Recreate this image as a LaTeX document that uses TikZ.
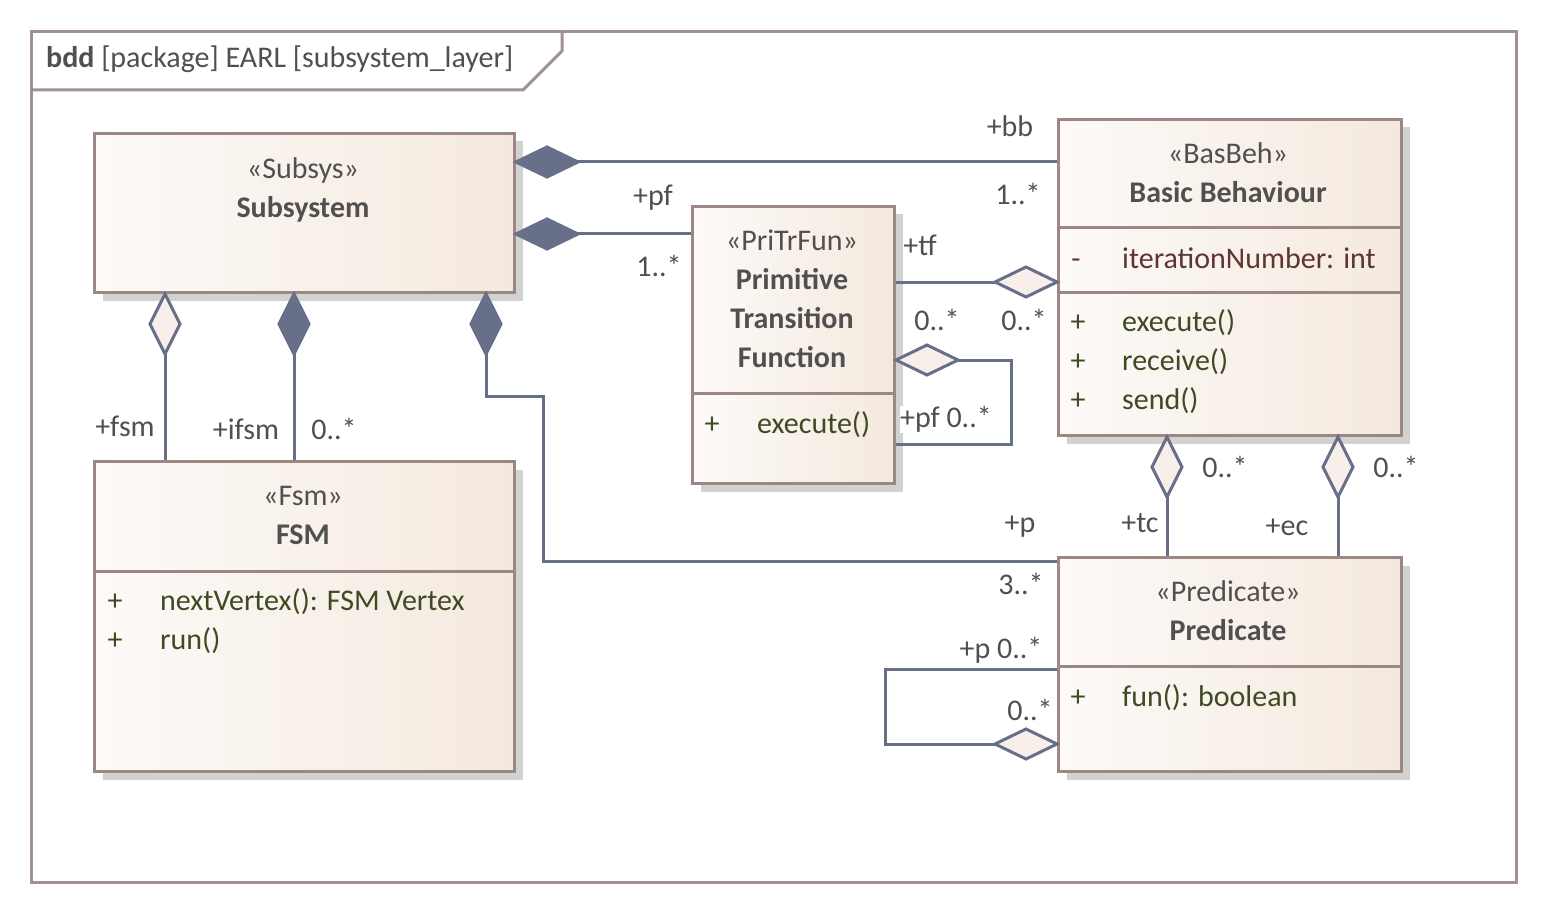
\documentclass[tikz,border=0pt]{standalone}
\usepackage{fontspec}
\setmainfont{Carlito}
\usetikzlibrary{shadows}
\definecolor{connc}{HTML}{687089}
\definecolor{boxline}{HTML}{9C8784}
\definecolor{frameline}{HTML}{A09291}
\definecolor{fillL}{HTML}{FDFAF8}
\definecolor{fillR}{HTML}{F4E9DE}
\definecolor{txtc}{HTML}{505050}
\definecolor{optxt}{HTML}{3E4A22}
\definecolor{attxt}{HTML}{5E3530}
\definecolor{shadowc}{HTML}{D2D2D2}
\definecolor{aggfill}{HTML}{F8EFEA}
\begin{document}
\begin{tikzpicture}[x=1pt,y=-1pt,
  txt/.style={font=\fontsize{30}{36}\selectfont, inner sep=0pt, text height=22pt, text depth=5pt, text=txtc},
  bold/.style={txt, font=\fontsize{30}{36}\selectfont\bfseries},
  op/.style={txt, text=optxt, anchor=west},
  vis/.style={txt, text=optxt},
  att/.style={txt, text=attxt, anchor=west},
  umlbox/.style={draw=boxline, line width=3pt, left color=fillL, right color=fillR, anchor=north west, inner sep=0pt,
    drop shadow={shadow xshift=8pt, shadow yshift=-8pt, fill=shadowc, opacity=1}},
  divider/.style={draw=boxline, line width=3pt},
  conn/.style={draw=connc, line width=3pt},
  comp/.style={draw=connc, fill=connc, line width=3pt, line join=miter},
  agg/.style={draw=connc, fill=aggfill, line width=3pt, line join=miter},
  lbl/.style={txt, fill=white}
]
\useasboundingbox (0,0) rectangle (1545,912);
\fill[white] (0,0) rectangle (1545,912);
% frame
\node[draw=frameline, line width=3pt, minimum width=1485pt, minimum height=851pt, anchor=north west, inner sep=0pt] (frame) at (30,30) {};
\draw[frameline, line width=3pt] (frame.west |- 0,90) -- (523,90) -- (562,51) -- (562,30);
\node[txt, anchor=west] (title) at (46,59) {\textbf{bdd} [package] EARL [subsystem\_layer]};

% boxes
\node[umlbox, minimum width=420pt, minimum height=159pt] (sub) at (93,132) {};
\node[umlbox, minimum width=420pt, minimum height=310pt] (fsm) at (93,460) {};
\node[umlbox, minimum width=202pt, minimum height=277pt] (ptf) at (691,205) {};
\node[umlbox, minimum width=343pt, minimum height=316pt] (bb) at (1057,118) {};
\node[umlbox, minimum width=343pt, minimum height=214pt] (pred) at (1057,556) {};

% dividers
\draw[divider] (fsm.west |- 0,571) -- (fsm.east |- 0,571);
\draw[divider] (ptf.west |- 0,393) -- (ptf.east |- 0,393);
\draw[divider] (bb.west |- 0,228) -- (bb.east |- 0,228);
\draw[divider] (bb.west |- 0,292) -- (bb.east |- 0,292);
\draw[divider] (pred.west |- 0,666) -- (pred.east |- 0,666);

% Subsystem
\node[txt] (subst) at (303,170) {«Subsys»};
\node[bold] (subnm) at (303,209) {Subsystem};
% FSM
\node[txt] (fsmst) at (303,497) {«Fsm»};
\node[bold] (fsmnm) at (303,536) {FSM};
\node[vis] (fsmv1) at (115,602) {+};
\node[op] (fsmo1) at (160,602) {nextVertex(): FSM Vertex};
\node[vis] (fsmv2) at (115,641) {+};
\node[op] (fsmo2) at (160,641) {run()};
% PriTrFun
\node[txt] (ptfst) at (792,242) {«PriTrFun»};
\node[bold] (ptfn1) at (792,281) {Primitive};
\node[bold] (ptfn2) at (792,320) {Transition};
\node[bold] (ptfn3) at (792,359) {Function};
\node[vis] (ptfv1) at (712,425) {+};
\node[op] (ptfo1) at (757,425) {execute()};
% Basic Behaviour
\node[txt] (bbst) at (1228,155) {«BasBeh»};
\node[bold] (bbnm) at (1228,194) {Basic Behaviour};
\node[txt, text=attxt] (bbv0) at (1076,260) {-};
\node[att] (bba1) at (1122,260) {iterationNumber: int};
\node[vis] (bbv1) at (1078,323) {+};
\node[op] (bbo1) at (1122,323) {execute()};
\node[vis] (bbv2) at (1078,362) {+};
\node[op] (bbo2) at (1122,362) {receive()};
\node[vis] (bbv3) at (1078,401) {+};
\node[op] (bbo3) at (1122,401) {send()};
% Predicate
\node[txt] (predst) at (1228,593) {«Predicate»};
\node[bold] (prednm) at (1228,632) {Predicate};
\node[vis] (predv1) at (1078,698) {+};
\node[op] (predo1) at (1122,698) {fun(): boolean};

% connectors
% 1 Subsystem -- Basic Behaviour
\coordinate (d1) at (sub.east |- 0,162);
\draw[conn] ([xshift=62pt]d1) -- (bb.west |- d1);
\draw[comp] (d1) -- ++(31,-15) -- ++(31,15) -- ++(-31,15) -- cycle;
% 2 Subsystem -- PriTrFun
\coordinate (d2) at (sub.east |- 0,234);
\draw[conn] ([xshift=62pt]d2) -- (ptf.west |- d2);
\draw[comp] (d2) -- ++(31,-15) -- ++(31,15) -- ++(-31,15) -- cycle;
% 3 PriTrFun -- Basic Behaviour
\coordinate (d3) at (bb.west |- 0,282);
\draw[conn] (ptf.east |- d3) -- ([xshift=-62pt]d3);
\draw[agg] (d3) -- ++(-31,-15) -- ++(-31,15) -- ++(31,15) -- cycle;
% 4 PriTrFun self
\coordinate (d4) at (ptf.east |- 0,360);
\coordinate (c4a) at (1011,360);
\coordinate (c4b) at (1011,444);
\draw[conn] ([xshift=62pt]d4) -- (c4a) -- (c4b) -- (ptf.east |- c4b);
\draw[agg] (d4) -- ++(31,-15) -- ++(31,15) -- ++(-31,15) -- cycle;
% 5 Subsystem -- FSM (+fsm)
\coordinate (d5) at (165,0 |- sub.south);
\draw[conn] ([yshift=-60pt]d5) -- (fsm.north -| d5);
\draw[agg] (d5) -- ++(-15,30) -- ++(15,30) -- ++(15,-30) -- cycle;
% 6 Subsystem -- FSM (+ifsm)
\coordinate (d6) at (294,0 |- sub.south);
\draw[conn] ([yshift=-60pt]d6) -- (fsm.north -| d6);
\draw[comp] (d6) -- ++(-15,30) -- ++(15,30) -- ++(15,-30) -- cycle;
% 7 Subsystem -- Predicate
\coordinate (d7) at (486,0 |- sub.south);
\coordinate (c7a) at (486,396);
\coordinate (c7b) at (543,396);
\coordinate (c7c) at (543,561);
\draw[conn] ([yshift=-60pt]d7) -- (c7a) -- (c7b) -- (c7c) -- (pred.west |- c7c);
\draw[comp] (d7) -- ++(-15,30) -- ++(15,30) -- ++(15,-30) -- cycle;
% 8 Basic Behaviour -- Predicate (+tc)
\coordinate (d8) at (1167,0 |- bb.south);
\draw[conn] ([yshift=-60pt]d8) -- (pred.north -| d8);
\draw[agg] (d8) -- ++(-15,30) -- ++(15,30) -- ++(15,-30) -- cycle;
% 9 Basic Behaviour -- Predicate (+ec)
\coordinate (d9) at (1338,0 |- bb.south);
\draw[conn] ([yshift=-60pt]d9) -- (pred.north -| d9);
\draw[agg] (d9) -- ++(-15,30) -- ++(15,30) -- ++(15,-30) -- cycle;
% 10 Predicate self
\coordinate (d10) at (pred.west |- 0,744);
\coordinate (c10a) at (885,669);
\coordinate (c10b) at (885,744);
\draw[conn] (pred.west |- c10a) -- (c10a) -- (c10b) -- ([xshift=-62pt]d10);
\draw[agg] (d10) -- ++(-31,-15) -- ++(-31,15) -- ++(31,15) -- cycle;

% labels
\node[txt] (l1a) at (1010,128) {+bb};
\node[txt] (l1b) at (1018,196) {1..*};
\node[txt] (l2a) at (653,197) {+pf};
\node[txt] (l2b) at (659,268) {1..*};
\node[txt] (l3a) at (920,247) {+tf};
\node[txt] (l3b) at (937,322) {0..*};
\node[txt] (l3c) at (1024,322) {0..*};
\node[lbl] (l4a) at (946,419) {+pf 0..*};
\node[txt] (l5a) at (125,428) {+fsm};
\node[txt] (l6a) at (246,431) {+ifsm};
\node[txt] (l6b) at (334,431) {0..*};
\node[txt] (l7a) at (1020,524) {+p};
\node[txt] (l7b) at (1021,586) {3..*};
\node[txt] (l8a) at (1140,524) {+tc};
\node[txt] (l8b) at (1225,469) {0..*};
\node[txt] (l9a) at (1287,527) {+ec};
\node[txt] (l9b) at (1396,469) {0..*};
\node[txt] (l10a) at (1001,650) {+p 0..*};
\node[txt] (l10b) at (1030,712) {0..*};
\end{tikzpicture}
\end{document}
